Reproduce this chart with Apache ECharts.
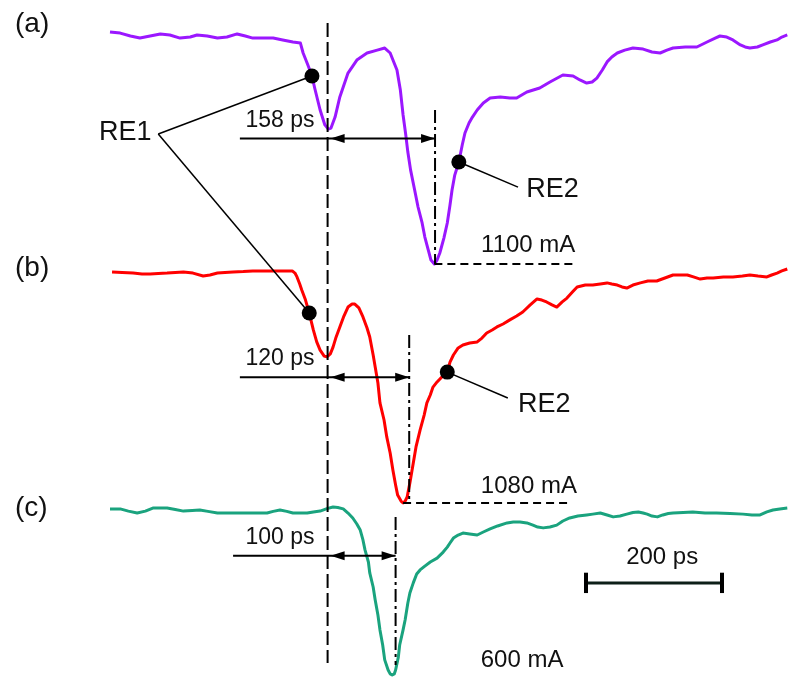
<!DOCTYPE html>
<html>
<head>
<meta charset="utf-8">
<title>Current pulses (a)-(c)</title>
<script src="https://cdn.jsdelivr.net/npm/echarts@6/dist/echarts.min.js"></script>
<style>
  html, body { margin: 0; padding: 0; background: #fff; }
  #chart { width: 792px; height: 678px; }
</style>
</head>
<body>
<div id="chart"></div>
<script>
// ---- measured waveforms: [time in ps relative to the RE1 dip, current in mA] ----
const traceA = [[-320,19],[-305,14],[-290,0],[-276,-10],[-261,0],[-246,10],[-232,5],[-217,-10],[-202,-5],[-192,5],[-177,0],[-162,-10],[-148,-5],[-133,10],[-121,0],[-110,-10],[-95,-10],[-80,-10],[-66,-19],[-51,-29],[-40,-34],[-36,-82],[-29,-140],[-23,-193],[-19,-251],[-11,-357],[-4,-429],[1,-449],[5,-444],[11,-391],[18,-294],[30,-179],[43,-116],[58,-82],[73,-68],[84,-58],[92,-82],[102,-164],[107,-261],[111,-381],[115,-478],[118,-560],[122,-646],[128,-743],[133,-825],[139,-902],[143,-970],[148,-1032],[152,-1081],[157,-1100],[161,-1081],[165,-1047],[171,-975],[176,-902],[180,-815],[183,-743],[187,-671],[193,-608],[198,-526],[202,-468],[208,-420],[213,-391],[220,-357],[229,-323],[239,-299],[254,-294],[268,-299],[278,-299],[293,-270],[312,-251],[327,-222],[346,-188],[361,-193],[371,-212],[381,-227],[389,-222],[396,-203],[404,-164],[411,-125],[418,-101],[426,-82],[437,-68],[449,-58],[464,-63],[477,-77],[489,-82],[499,-68],[508,-58],[526,-53],[543,-53],[558,-29],[570,-10],[577,0],[587,-5],[596,-19],[607,-43],[614,-53],[621,-58],[632,-53],[640,-43],[651,-29],[661,-19],[668,-5],[676,5]];

const traceB = [[-317,0],[-302,-2],[-286,-5],[-273,-9],[-261,-9],[-249,-7],[-236,-5],[-224,-2],[-212,0],[-198,-5],[-183,-19],[-173,-14],[-162,-5],[-151,-2],[-139,0],[-124,2],[-110,5],[-95,5],[-80,5],[-66,5],[-52,5],[-48,-5],[-45,-23],[-41,-56],[-38,-84],[-33,-126],[-27,-192],[-21,-271],[-16,-327],[-11,-365],[-5,-393],[-1,-397],[4,-383],[8,-351],[12,-309],[18,-257],[24,-206],[30,-164],[36,-150],[40,-150],[46,-168],[52,-210],[58,-262],[62,-304],[67,-388],[70,-444],[74,-519],[77,-612],[83,-692],[87,-771],[92,-846],[96,-926],[100,-996],[103,-1043],[108,-1071],[111,-1080],[114,-1071],[117,-1052],[121,-986],[126,-893],[130,-818],[136,-739],[142,-669],[146,-612],[151,-575],[155,-538],[161,-514],[168,-491],[176,-468],[180,-421],[185,-388],[192,-355],[199,-341],[209,-332],[220,-327],[227,-309],[234,-285],[242,-271],[249,-257],[258,-243],[268,-224],[278,-206],[287,-187],[298,-154],[308,-126],[315,-131],[322,-140],[330,-154],[337,-164],[345,-140],[352,-122],[360,-94],[367,-70],[379,-61],[390,-61],[401,-56],[411,-51],[418,-56],[426,-61],[433,-70],[440,-75],[449,-61],[460,-51],[471,-42],[484,-42],[496,-28],[508,-14],[518,-14],[529,-14],[538,-23],[548,-33],[558,-28],[567,-28],[582,-23],[596,-23],[610,-19],[621,-14],[633,-19],[646,-23],[653,-14],[661,-5],[668,5],[676,14]];

const traceC = [[-320,4],[-305,4],[-293,-4],[-280,-11],[-268,-4],[-257,7],[-246,7],[-236,7],[-224,2],[-212,-4],[-199,-2],[-188,0],[-176,-5],[-162,-11],[-151,-11],[-139,-11],[-126,-11],[-114,-11],[-102,-11],[-89,-11],[-80,-5],[-70,0],[-60,-5],[-51,-11],[-41,-11],[-30,-11],[-21,-7],[-11,-4],[-1,5],[8,11],[15,9],[23,4],[30,-11],[37,-29],[43,-51],[48,-73],[52,-109],[55,-145],[60,-189],[62,-229],[67,-280],[70,-327],[74,-382],[77,-436],[81,-491],[84,-545],[89,-582],[92,-596],[95,-600],[98,-596],[100,-582],[104,-535],[106,-491],[111,-436],[114,-400],[118,-338],[121,-302],[126,-265],[131,-233],[136,-218],[143,-204],[151,-189],[161,-175],[170,-153],[176,-135],[180,-120],[185,-102],[192,-91],[199,-84],[209,-87],[220,-91],[229,-80],[239,-69],[250,-58],[264,-47],[273,-44],[283,-44],[293,-47],[302,-55],[309,-62],[317,-65],[327,-62],[337,-55],[346,-40],[356,-29],[368,-22],[381,-18],[390,-15],[401,-11],[411,-18],[420,-25],[430,-22],[440,-15],[449,-9],[457,-7],[464,-11],[470,-15],[477,-22],[485,-25],[493,-18],[501,-13],[508,-11],[523,-9],[537,-7],[555,-11],[572,-11],[592,-13],[611,-15],[624,-18],[636,-18],[646,-7],[655,0],[665,4],[676,7]];

// ---- annotated quantities ----
const panelNames   = ['(a)', '(b)', '(c)'];
const intervalsPs  = [158, 120, 100];     // RE1 dip to main dip
const peakCurrents = [1100, 1080, 600];   // mA
const re1Times     = [-23, -27];          // ps, panels (a) and (b)
const re2Times     = [193, 176];          // ps, panels (a) and (b)
const scaleBarPs   = 200;

// ---- layout & style ----
const W = 792, H = 678;
const colors = ['#9b17ff', '#ff0000', '#1aa37e'];
const panelLayout = [
  { baselinePx: 36,  peakPx: 264, labelY: 24 },
  { baselinePx: 272, peakPx: 503, labelY: 268 },
  { baselinePx: 510, peakPx: 675, labelY: 508 }
];
// annotation placement, in each panel's own units (ps, mA)
const place = [
  { vTop: -357, vBottom: null, arrowY: -494, tail: -129, ivLabel: [-70, -408], hEnd: 361, peakLabel: [295, -1011],
    re2Leader: [280, -729], re2Text: [292, -743] },
  { vTop: -295, vBottom: null, arrowY: -492, tail: -129, ivLabel: [-70, -407], hEnd: 356, peakLabel: [296, -1003],
    re2Leader: [265, -589], re2Text: [280, -622] },
  { vTop: -25, vBottom: -564, arrowY: -166, tail: -139, ivLabel: [-70, -100], hEnd: null, peakLabel: [286, -547] }
];
const re1Line  = { topA: 63, bottomC: -556 };
const re1Label = { text: [-259, -468], vertex: [-249, -473] };
const scaleBar = { start: 380, y: -265, tickHalf: 37, label: [492, -173] };

const traces = [traceA, traceB, traceC];
const FONT = '"Liberation Sans", Arial, Helvetica, sans-serif';
const SIZE_PS = 23, SIZE_MA = 24, SIZE_RE = 27, SIZE_TAG = 28;

function pointAt(trace, t) { return trace.find(p => p[0] === t); }
function peakOf(trace) { return trace.reduce((m, p) => (p[1] < m[1] ? p : m), trace[0]); }

const chart = echarts.init(document.getElementById('chart'), null, { renderer: 'canvas', width: W, height: H });

const series = traces.map((tr, i) => ({
  type: 'line', yAxisIndex: i, data: tr, symbol: 'none', showSymbol: false,
  lineStyle: { color: colors[i], width: 3, join: 'round' }, silent: true, z: 2
}));
[0, 1].forEach(i => {
  series.push({
    type: 'scatter', yAxisIndex: i, symbolSize: 15, silent: true, z: 30,
    itemStyle: { color: '#000', opacity: 1 },
    data: [pointAt(traces[i], re1Times[i]), pointAt(traces[i], re2Times[i])]
  });
});

chart.setOption({
  animation: false,
  backgroundColor: '#fff',
  grid: { left: 8, right: 2, top: 0, bottom: 0 },
  xAxis: { type: 'value', min: -470, max: 680, show: false },
  yAxis: panelLayout.map((p, i) => {
    const k = peakCurrents[i] / (p.peakPx - p.baselinePx);
    return { type: 'value', show: false, min: -(H - p.baselinePx) * k, max: p.baselinePx * k };
  }),
  series: series
});

// ---- annotations, positioned through the axes ----
function P(panel, t, v) { return chart.convertToPixel({ xAxisIndex: 0, yAxisIndex: panel }, [t, v]); }
const els = [];
function seg(a, b, style) {
  els.push({ type: 'line', z: 20, silent: true,
    shape: { x1: a[0], y1: a[1], x2: b[0], y2: b[1] },
    style: Object.assign({ stroke: '#000', lineWidth: 1.6 }, style || {}) });
}
function head(tip, dir) {
  const L = 14, Wd = 4.5;
  els.push({ type: 'polygon', z: 21, silent: true,
    shape: { points: [[tip[0], tip[1]], [tip[0] - dir * L, tip[1] - Wd], [tip[0] - dir * L, tip[1] + Wd]] },
    style: { fill: '#000' } });
}
function text(pos, str, size, align) {
  els.push({ type: 'text', z: 22, silent: true, x: pos[0], y: pos[1],
    style: { text: str, fontSize: size, fontFamily: FONT, fill: '#111', align: align || 'center', verticalAlign: 'middle' } });
}

// RE1 reference line through all three panels
seg(P(0, 0, re1Line.topA), P(2, 0, re1Line.bottomC), { lineWidth: 2, lineDash: [14, 5] });

place.forEach((pl, i) => {
  const iv = intervalsPs[i];
  const pk = peakOf(traces[i]);
  // marker through the main dip
  const vb = pl.vBottom !== null ? pl.vBottom : -peakCurrents[i];
  seg(P(i, iv, pl.vTop), P(i, iv, vb), { lineWidth: 2, lineDash: [13, 4, 3, 4] });
  // interval arrow
  const a0 = P(i, pl.tail, pl.arrowY), a1 = P(i, 0, pl.arrowY), a2 = P(i, iv, pl.arrowY);
  seg(a0, a2, { lineWidth: 2 });
  head([a1[0] + 3, a1[1]], -1);
  head(a2, 1);
  text(P(i, pl.ivLabel[0], pl.ivLabel[1]), iv + ' ps', SIZE_PS);
  // peak level
  if (pl.hEnd !== null) {
    seg(P(i, pk[0], -peakCurrents[i]), P(i, pl.hEnd, -peakCurrents[i]), { lineWidth: 2, lineDash: [8, 5] });
  }
  text(P(i, pl.peakLabel[0], pl.peakLabel[1]), peakCurrents[i] + ' mA', SIZE_MA);
  // RE2 callout
  if (pl.re2Leader) {
    const d = pointAt(traces[i], re2Times[i]);
    seg(P(i, d[0], d[1]), P(i, pl.re2Leader[0], pl.re2Leader[1]), { lineWidth: 1.5 });
    text(P(i, pl.re2Text[0], pl.re2Text[1]), 'RE2', SIZE_RE, 'left');
  }
});

// RE1 callout shared by panels (a) and (b)
const vtx = P(0, re1Label.vertex[0], re1Label.vertex[1]);
[0, 1].forEach(i => {
  const d = pointAt(traces[i], re1Times[i]);
  seg(vtx, P(i, d[0], d[1]), { lineWidth: 1.5 });
});
text(P(0, re1Label.text[0], re1Label.text[1]), 'RE1', SIZE_RE, 'right');

// time scale bar
const sb0 = P(2, scaleBar.start, scaleBar.y), sb1 = P(2, scaleBar.start + scaleBarPs, scaleBar.y);
seg(sb0, sb1, { lineWidth: 3, stroke: '#0d1f18' });
[scaleBar.start, scaleBar.start + scaleBarPs].forEach(t => {
  seg(P(2, t, scaleBar.y + scaleBar.tickHalf), P(2, t, scaleBar.y - scaleBar.tickHalf), { lineWidth: 4 });
});
text(P(2, scaleBar.label[0], scaleBar.label[1]), scaleBarPs + ' ps', SIZE_MA);

// panel tags
panelNames.forEach((n, i) => {
  els.push({ type: 'text', z: 22, silent: true, x: 15, y: panelLayout[i].labelY,
    style: { text: n, fontSize: SIZE_TAG, fontFamily: FONT, fill: '#111', align: 'left', verticalAlign: 'middle' } });
});

chart.setOption({ graphic: { elements: els } });
</script>
</body>
</html>
